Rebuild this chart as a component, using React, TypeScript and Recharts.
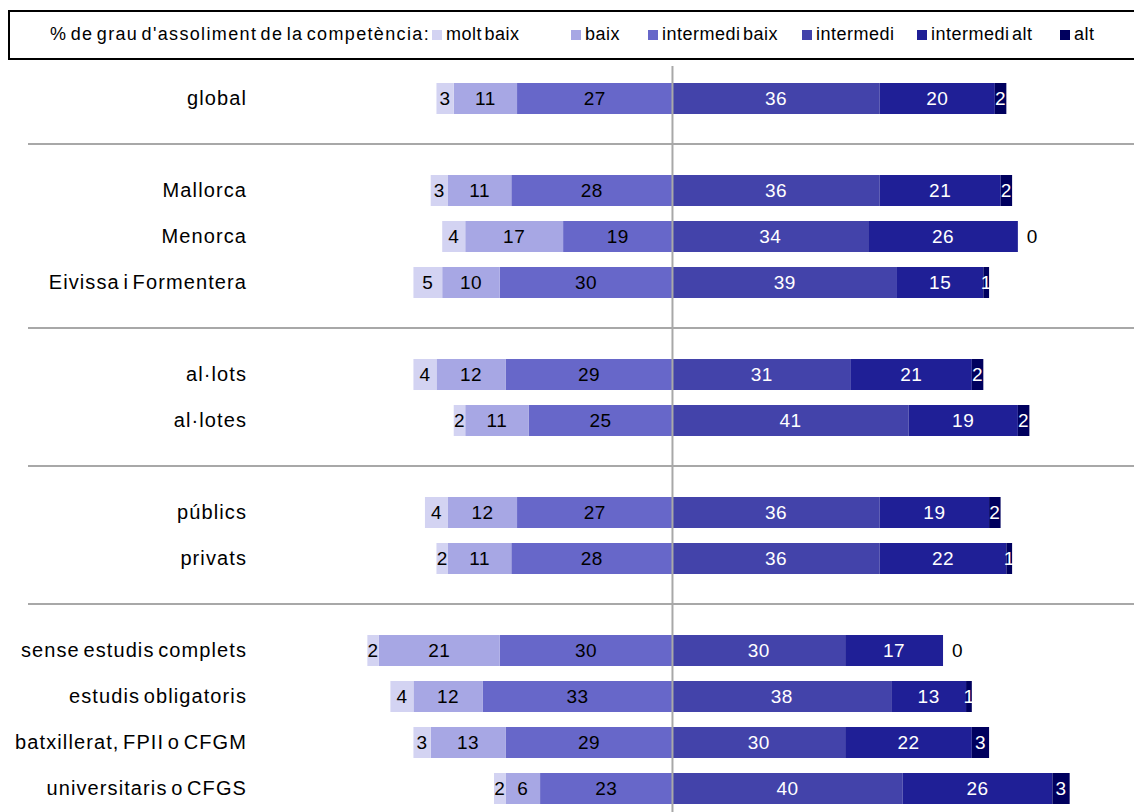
import React from 'react';
import { BarChart, Bar, XAxis, YAxis, ReferenceLine, LabelList } from 'recharts';

// rows; whitespace-only names are the empty rows that separate groups
const categories = [
  'global',
  ' ',
  'Mallorca',
  'Menorca',
  'Eivissa i Formentera',
  '  ',
  'al·lots',
  'al·lotes',
  '   ',
  'públics',
  'privats',
  '    ',
  'sense estudis complets',
  'estudis obligatoris',
  'batxillerat, FPII o CFGM',
  'universitaris o CFGS',
];

// % per level (left side: below intermedi, right side: intermedi and above)
const moltBaix = [3, null, 3, 4, 5, null, 4, 2, null, 4, 2, null, 2, 4, 3, 2];
const baix = [11, null, 11, 17, 10, null, 12, 11, null, 12, 11, null, 21, 12, 13, 6];
const intermediBaix = [27, null, 28, 19, 30, null, 29, 25, null, 27, 28, null, 30, 33, 29, 23];
const intermedi = [36, null, 36, 34, 39, null, 31, 41, null, 36, 36, null, 30, 38, 30, 40];
const intermediAlt = [20, null, 21, 26, 15, null, 21, 19, null, 19, 22, null, 17, 13, 22, 26];
const alt = [2, null, 2, 0, 1, null, 2, 2, null, 2, 1, null, 0, 1, 3, 3];

const legendTitle = "% de grau d'assoliment de la competència:";

const series = [
  { key: 'moltBaix', name: 'molt baix', values: moltBaix, color: '#d3d3f2', left: true },
  { key: 'baix', name: 'baix', values: baix, color: '#a7a7e4', left: true },
  { key: 'intermediBaix', name: 'intermedi baix', values: intermediBaix, color: '#6767c9', left: true },
  { key: 'intermedi', name: 'intermedi', values: intermedi, color: '#4343aa', left: false },
  { key: 'intermediAlt', name: 'intermedi alt', values: intermediAlt, color: '#1f1f96', left: false },
  { key: 'alt', name: 'alt', values: alt, color: '#00005e', left: false },
];

const data = categories.map((name, i) => {
  const row: Record<string, string | number | null> = { name };
  series.forEach((s) => {
    const v = s.values[i];
    row[s.key] = v == null ? null : s.left ? -v : v;
  });
  return row;
});

const separators = categories.filter((c) => c.trim() === '');

// bars nearest the centre line come first in the stack
const stackOrder = ['intermediBaix', 'baix', 'moltBaix', 'intermedi', 'intermediAlt', 'alt'];

// swatch x position of each legend entry
const legendX = [432, 571, 648, 802, 917, 1060];

const FONT = '"Liberation Sans", Arial, sans-serif';

const makeLabel = (textColor: string) => (props: any) => {
  const { x, y, width, height, value } = props;
  if (value == null || Number(value) === 0) return null;
  return (
    <text
      x={Number(x) + Number(width) / 2}
      y={Number(y) + Number(height) / 2}
      dy="0.36em"
      textAnchor="middle"
      fill={textColor}
      fontSize={19}
      letterSpacing={0.5}
      fontFamily={FONT}
    >
      {Math.abs(Number(value))}
    </text>
  );
};

// a 0 for "alt" has no bar, so it is written just past the end of the stack
const zeroLabel = (props: any) => {
  const { x, y, width, height, value } = props;
  if (value == null) return null;
  return (
    <text
      x={Number(x) + Number(width) + 9}
      y={Number(y) + Number(height) / 2}
      dy="0.36em"
      textAnchor="start"
      fill="#000"
      fontSize={19}
      fontFamily={FONT}
    >
      {value}
    </text>
  );
};

const CategoryTick = (props: any) => {
  const { x, y, payload } = props;
  return (
    <text
      x={x}
      y={y}
      dy="0.36em"
      textAnchor="end"
      fill="#000"
      fontSize={20}
      letterSpacing={1.1}
      wordSpacing={-3}
      fontFamily={FONT}
    >
      {payload.value}
    </text>
  );
};

function LegendBox() {
  return (
    <div
      style={{
        position: 'absolute',
        left: 8,
        top: 10,
        width: 1140,
        height: 46,
        border: '2px solid #000',
        fontFamily: FONT,
        fontSize: 18,
        color: '#000',
        whiteSpace: 'nowrap',
      }}
    >
      <span
        style={{
          position: 'absolute',
          left: 40,
          top: 12,
          letterSpacing: 1.35,
          wordSpacing: -3,
        }}
      >
        {legendTitle}
      </span>
      {series.map((s, i) => (
        <span
          key={s.key}
          style={{
            position: 'absolute',
            left: legendX[i] - 10,
            top: 12,
            display: 'flex',
            alignItems: 'center',
            letterSpacing: 0.5,
            wordSpacing: -3,
          }}
        >
          <span style={{ width: 10, height: 10, background: s.color, marginRight: 4 }} />
          {s.name}
        </span>
      ))}
    </div>
  );
}

export default function App() {
  return (
    <div
      style={{
        position: 'absolute',
        left: 0,
        top: 0,
        width: 1134,
        height: 812,
        overflow: 'hidden',
        background: '#fff',
      }}
    >
      <LegendBox />
      <BarChart
        width={1134}
        height={812}
        data={data}
        layout="vertical"
        stackOffset="sign"
        barSize={31}
        margin={{ top: 75, right: 1, bottom: 1, left: 0 }}
      >
        <XAxis type="number" domain={[-72, 80]} hide />
        <YAxis
          type="category"
          dataKey="name"
          width={258}
          axisLine={false}
          tickLine={false}
          tickSize={0}
          tickMargin={11}
          interval={0}
          tick={<CategoryTick />}
        />
        {stackOrder.map((k) => {
          const s = series.find((x) => x.key === k)!;
          return (
            <Bar key={k} dataKey={k} name={s.name} stackId="a" fill={s.color} isAnimationActive={false}>
              <LabelList dataKey={k} content={makeLabel(s.left ? '#000' : '#fff')} />
              {k === 'intermediAlt' && (
                <LabelList
                  dataKey={(row: any) => (row.alt === 0 ? 0 : null)}
                  content={zeroLabel}
                />
              )}
            </Bar>
          );
        })}
        {separators.map((c) => (
          <ReferenceLine
            key={c.length}
            y={c}
            stroke="#a8a8a8"
            strokeWidth={2}
            ifOverflow="visible"
            shape={(p: any) => (
              <line x1={28} y1={p.y1} x2={1134} y2={p.y2} stroke="#a8a8a8" strokeWidth={2} />
            )}
          />
        ))}
        <ReferenceLine
          x={0}
          stroke="#a8a8a8"
          strokeWidth={2}
          ifOverflow="visible"
          shape={(p: any) => <line x1={p.x1} y1={66} x2={p.x2} y2={812} stroke="#a8a8a8" strokeWidth={2} />}
        />
      </BarChart>
    </div>
  );
}
